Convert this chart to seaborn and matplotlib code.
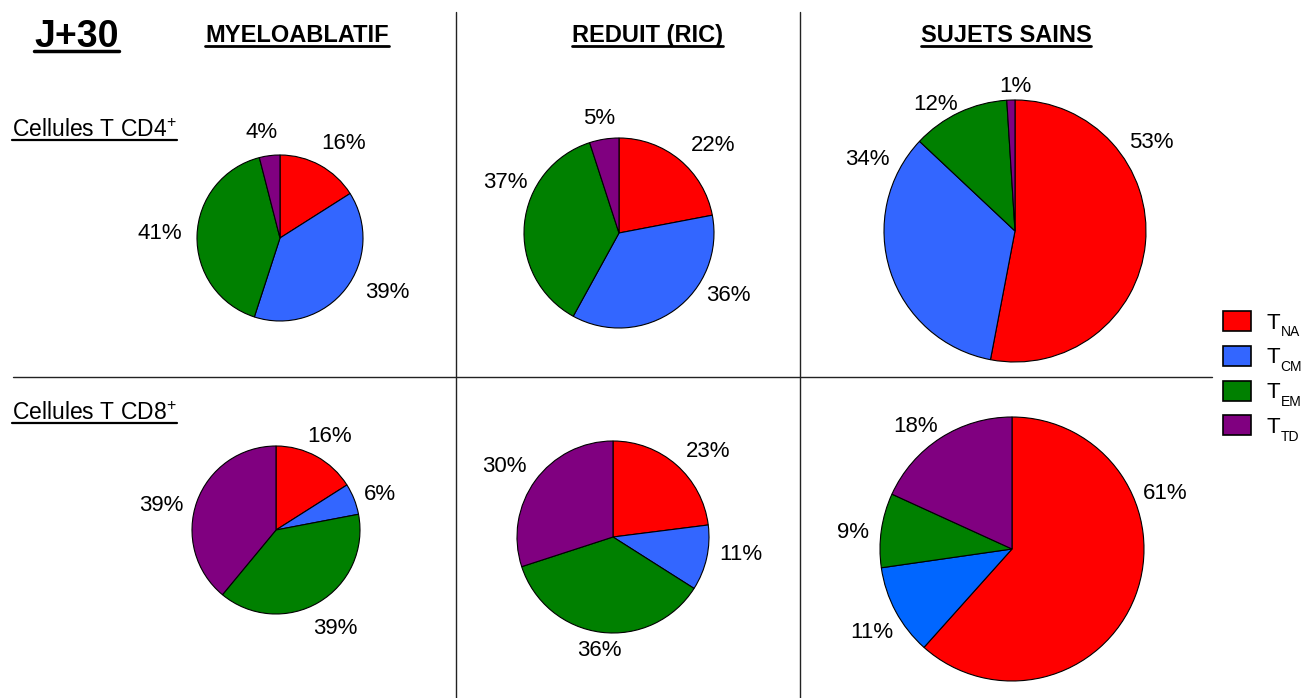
import matplotlib
matplotlib.use("Agg")
import numpy as np
import matplotlib.pyplot as plt
import seaborn as sns
from matplotlib.patches import Patch
from matplotlib.lines import Line2D

# ----------------------
# Data
# ----------------------
subsets = ["NA", "CM", "EM", "TD"]
groups = ["MYELOABLATIF", "REDUIT (RIC)", "SUJETS SAINS"]
rows = ["CD4", "CD8"]

cd4_myelo = [16, 39, 41, 4]
cd4_ric = [22, 36, 37, 5]
cd4_sains = [53, 34, 12, 1]
cd8_myelo = [16, 6, 39, 39]
cd8_ric = [23, 11, 36, 30]
cd8_sains = [61, 11, 9, 18]

colors = ["#FF0000", "#3366FF", "#008000", "#800080"]
colors_alt = ["#FF0000", "#0066FF", "#008000", "#800080"]

# ----------------------
# Style
# ----------------------
sns.set_theme(style="white")
plt.rcParams["font.family"] = ["Liberation Sans", "DejaVu Sans"]
plt.rcParams["text.color"] = "black"
plt.rcParams["mathtext.fontset"] = "custom"
plt.rcParams["mathtext.rm"] = "Liberation Sans"
plt.rcParams["mathtext.it"] = "Liberation Sans:italic"
plt.rcParams["mathtext.bf"] = "Liberation Sans:bold"

W, H = 1307, 698
fig = plt.figure(figsize=(W / 100, H / 100), dpi=100)
fig.patch.set_facecolor("white")


def px(x, y):
    return x / W, 1 - y / H


# pie layout in pixels: centre x, centre y, radius,
# then where the value labels sit (degrees clockwise from 12 o'clock, distance in px)
layout = [
    (cd4_myelo, (280, 238, 83), colors, [34, 117, 272, 350], [114, 120, 120, 107]),
    (cd4_ric, (619, 233, 95), colors, [47, 120, 294, 350], [129, 126, 124, 116]),
    (cd4_sains, (1015, 231, 131), colors, [57, 296, 328, 0], [162, 164, 149, 145]),
    (cd8_myelo, (276, 530, 84), colors, [30, 71, 149, 282], [108, 110, 115, 117]),
    (cd8_ric, (613, 537, 96), colors, [48, 98, 187, 303], [128, 129, 114, 129]),
    (cd8_sains, (1012, 549, 132), colors_alt, [70, 239, 276, 322], [163, 163, 160, 156]),
]

for values, (cx, cy, r), cols, lab_ang, lab_dist in layout:
    ax = fig.add_axes([(cx - r) / W, 1 - (cy + r) / H, 2 * r / W, 2 * r / H])
    wedges, texts = ax.pie(
        values,
        labels=[f"{v}%" for v in values],
        colors=cols,
        startangle=90,
        counterclock=False,
        wedgeprops=dict(edgecolor="black", linewidth=0.8),
        textprops=dict(fontsize=16, color="black"),
    )
    for t, a, d in zip(texts, lab_ang, lab_dist):
        th = np.deg2rad(a)
        t.set_position((d / r * np.sin(th), d / r * np.cos(th)))
        t.set_ha("center")
        t.set_va("center")
    ax.set_xlim(-1, 1)
    ax.set_ylim(-1, 1)
    ax.set_aspect("equal")
    ax.axis("off")

# separators
line_kw = dict(color="#222222", linewidth=1.0)
fig.add_artist(Line2D([456 / W, 456 / W], [1 - 12 / H, 0], **line_kw))
fig.add_artist(Line2D([800 / W, 800 / W], [1 - 12 / H, 0], **line_kw))
fig.add_artist(Line2D([13 / W, 1212 / W], [1 - 377 / H, 1 - 377 / H], **line_kw))

# titles (anchored on the baseline)
underlined = []
t = fig.text(*px(34, 47), "J+30", fontsize=27, fontweight="bold", ha="left", va="baseline")
underlined.append((t, 2.5, 4))
for name, x in zip(groups, [297, 647, 1006]):
    t = fig.text(*px(x, 42), name, fontsize=17, fontweight="bold", ha="center", va="baseline")
    underlined.append((t, 2.0, 3.5))
for label, y in zip(rows, [137, 420]):
    t = fig.text(*px(12, y), "Cellules T " + label + r"$^{\mathregular{+}}$",
                 fontsize=16.5, ha="left", va="baseline")
    underlined.append((t, 1.6, 2.5))

# legend: "T" in the legend, small subscripts added afterwards
handles = [Patch(facecolor=c, edgecolor="black", linewidth=1.2) for c in colors]
leg = fig.legend(handles, ["T"] * len(subsets), loc="upper left",
                 bbox_to_anchor=px(1212, 300), frameon=False, fontsize=16,
                 handlelength=1.25, handleheight=1.0, handletextpad=0.7,
                 labelspacing=0.55, borderpad=0)

fig.canvas.draw()
renderer = fig.canvas.get_renderer()

for txt, sub in zip(leg.get_texts(), subsets):
    bb = txt.get_window_extent(renderer)
    base = bb.y0 + 0.21 * bb.height  # approx. baseline of "T"
    fig.text((bb.x1 + 0.5) / W, (base - 7) / H, sub, fontsize=10, ha="left", va="baseline")

# underline the headings just below the baseline
for t, lw, gap in underlined:
    bb = t.get_window_extent(renderer)
    y = t.get_position()[1] * H - gap
    fig.add_artist(Line2D([bb.x0 / W, bb.x1 / W], [y / H, y / H],
                          color="black", linewidth=lw))

fig.savefig("out.png", dpi=100, facecolor="white")
